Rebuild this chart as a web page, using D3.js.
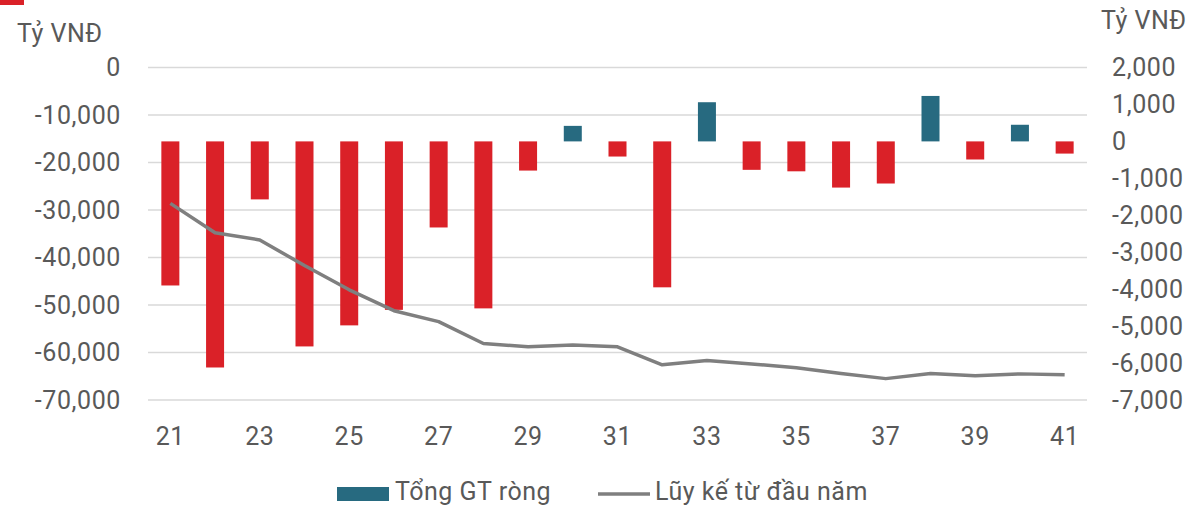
<!DOCTYPE html>
<meta charset="utf-8">
<style>
  body { margin: 0; background: #fff; }
  text { font-family: Roboto, "Noto Sans", sans-serif; fill: #595959; }
</style>
<body>
<script src="https://d3js.org/d3.v7.min.js"></script>
<script>
// week numbers
var weeks = [21,22,23,24,25,26,27,28,29,30,31,32,33,34,35,36,37,38,39,40,41];
// weekly net value (right axis, ty VND)
var netValues = [-3900,-6120,-1570,-5550,-4980,-4560,-2330,-4520,-790,420,-410,
                 -3950,1060,-770,-810,-1250,-1140,1230,-490,450,-330];
// cumulative since start of year (left axis, ty VND)
var cumValues = [-28600,-34800,-36300,-41700,-46800,-51200,-53500,-58100,-58800,-58400,-58800,
                 -62600,-61700,-62400,-63200,-64400,-65500,-64400,-64900,-64500,-64700];
var xTickLabels = [21,23,25,27,29,31,33,35,37,39,41];
var leftTicks = [0,-10000,-20000,-30000,-40000,-50000,-60000,-70000];
var rightTicks = [2000,1000,0,-1000,-2000,-3000,-4000,-5000,-6000,-7000];

var W = 1195, H = 506;
var margin = {top: 67.5, right: 108, bottom: 106, left: 148};
var width = W - margin.left - margin.right,
    height = H - margin.top - margin.bottom;

var svg = d3.select("body").append("svg")
    .attr("width", W)
    .attr("height", H);

// fragment of the cut-off title marker
svg.append("rect").attr("x", 0).attr("y", 0).attr("width", 24).attr("height", 5).attr("fill", "#DA2128");

var g = svg.append("g").attr("transform", "translate(" + margin.left + "," + margin.top + ")");

var x = d3.scaleBand().domain(weeks).range([0, width]).paddingInner(0.6).paddingOuter(0.3);
var yL = d3.scaleLinear().domain([-70000, 0]).range([height, 0]);
var yR = d3.scaleLinear().domain([-7000, 2000]).range([height, 0]);

// gridlines from left axis
g.append("g").selectAll("line")
    .data(leftTicks)
  .enter().append("line")
    .attr("x1", 0).attr("x2", width)
    .attr("y1", function(d) { return yL(d); })
    .attr("y2", function(d) { return yL(d); })
    .attr("stroke", "#d9d9d9")
    .attr("stroke-width", 1.3);

// hyphen instead of unicode minus, like the reference
var fmt = function(d) { return d3.format(",")(d).replace("\u2212", "-"); };

// left axis
var leftAxis = d3.axisLeft(yL).tickValues(leftTicks).tickFormat(fmt).tickSize(0).tickPadding(27);
g.append("g").call(leftAxis)
    .call(function(a) { a.select(".domain").remove(); })
    .selectAll("text").style("font-size", "25px").style("letter-spacing", "0.6px").attr("fill", "#595959");

// right axis
var rightAxis = d3.axisRight(yR).tickValues(rightTicks).tickFormat(fmt).tickSize(0).tickPadding(25);
g.append("g").attr("transform", "translate(" + width + ",0)").call(rightAxis)
    .call(function(a) { a.select(".domain").remove(); })
    .selectAll("text").style("font-size", "25px").style("letter-spacing", "0.6px").attr("fill", "#595959");

// x axis
var xAxis = d3.axisBottom(x).tickValues(xTickLabels).tickSize(0).tickPadding(27);
g.append("g").attr("transform", "translate(0," + height + ")").call(xAxis)
    .call(function(a) { a.select(".domain").remove(); })
    .selectAll("text").style("font-size", "25px").style("letter-spacing", "0.6px").attr("fill", "#595959");

// bars
g.append("g").selectAll("rect")
    .data(netValues)
  .enter().append("rect")
    .attr("x", function(d, i) { return x(weeks[i]) + x.bandwidth() / 2 - 9; })
    .attr("width", 18)
    .attr("y", function(d) { return yR(Math.max(0, d)); })
    .attr("height", function(d) { return Math.abs(yR(d) - yR(0)); })
    .attr("fill", function(d) { return d < 0 ? "#DA2128" : "#276A80"; });

// cumulative line
var line = d3.line()
    .x(function(d, i) { return x(weeks[i]) + x.bandwidth() / 2; })
    .y(function(d) { return yL(d); });
g.append("path")
    .datum(cumValues)
    .attr("d", line)
    .attr("fill", "none")
    .attr("stroke", "#7F7F7F")
    .attr("stroke-width", 3.5)
    .attr("stroke-linejoin", "round");

// axis titles
svg.append("text").attr("x", 17).attr("y", 42).style("font-size", "25px").style("letter-spacing", "0.5px").text("Tỷ VNĐ");
svg.append("text").attr("x", 1101).attr("y", 29).style("font-size", "25px").style("letter-spacing", "0.5px").text("Tỷ VNĐ");

// legend
var lg = svg.append("g");
lg.append("rect").attr("x", 337).attr("y", 487).attr("width", 52).attr("height", 14).attr("fill", "#276A80");
lg.append("text").attr("x", 395).attr("y", 500).style("font-size", "25px").style("letter-spacing", "0.5px").text("Tổng GT ròng");
lg.append("line").attr("x1", 598).attr("x2", 650).attr("y1", 494).attr("y2", 494)
    .attr("stroke", "#7F7F7F").attr("stroke-width", 3.5);
lg.append("text").attr("x", 655).attr("y", 500).style("font-size", "25px").style("letter-spacing", "0.5px").text("Lũy kế từ đầu năm");
</script>
</body>
